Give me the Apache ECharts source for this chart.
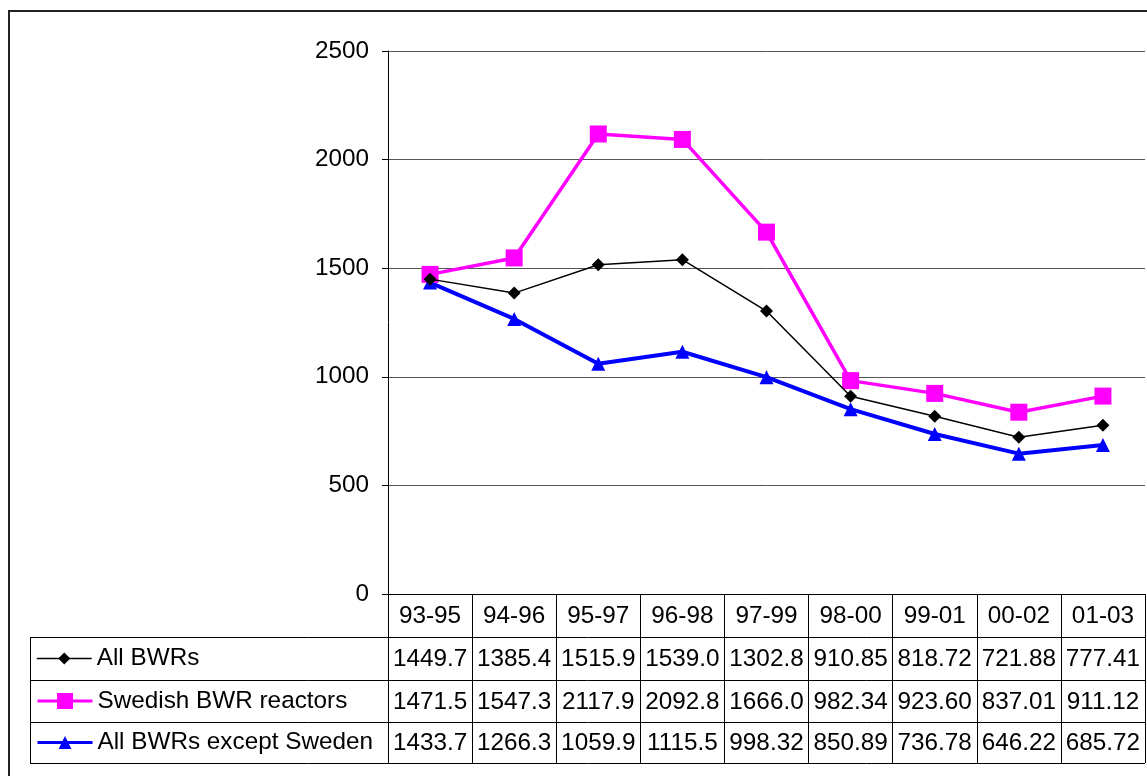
<!DOCTYPE html>
<html>
<head>
<meta charset="utf-8">
<script src="https://cdn.jsdelivr.net/npm/echarts@6/dist/echarts.min.js"></script>
<style>
  html, body { margin: 0; padding: 0; background: #fff; }
  #chart { width: 1147px; height: 776px; }
</style>
</head>
<body>
<div id="chart"></div>
<script>
// periods (3-year rolling)
const categories = ["93-95", "94-96", "95-97", "96-98", "97-99", "98-00", "99-01", "00-02", "01-03"];
const allBwrs = [1449.7, 1385.4, 1515.9, 1539.0, 1302.8, 910.85, 818.72, 721.88, 777.41];
const swedishBwrs = [1471.5, 1547.3, 2117.9, 2092.8, 1666.0, 982.34, 923.60, 837.01, 911.12];
const exceptSweden = [1433.7, 1266.3, 1059.9, 1115.5, 998.32, 850.89, 736.78, 646.22, 685.72];
const yTicks = [0, 500, 1000, 1500, 2000, 2500];

const FONT = "'Liberation Sans', Arial, sans-serif";
const FS = 24.3;

const seriesDefs = [
  { name: "All BWRs", data: allBwrs, color: "#000000", symbol: "diamond", size: 13, width: 1.5, legendH: 15, legendW: 1.5 },
  { name: "Swedish BWR reactors", data: swedishBwrs, color: "#ff00ff", symbol: "rect", size: 17, width: 3.5, legendH: 20, legendW: 3 },
  { name: "All BWRs except Sweden", data: exceptSweden, color: "#0000ff", symbol: "triangle", size: 14, width: 4, legendH: 16, legendW: 3 },
];

// table rows (y range of each row, in px)
const rowTops = [637, 680, 722];
const rowBottom = 763;

var chartDom = document.getElementById("chart");
var myChart = echarts.init(chartDom, null, { renderer: "canvas" });

const option = {
  animation: false,
  textStyle: { fontFamily: FONT },
  grid: { left: 388, right: 2, top: 51, bottom: 182, containLabel: false },
  legend: seriesDefs.map((s, i) => ({
    data: [s.name],
    orient: "vertical",
    left: 36,
    top: (rowTops[i] + (i < 2 ? rowTops[i + 1] : rowBottom)) / 2 - 12,
    padding: 0,
    itemWidth: 55,
    itemHeight: s.legendH,
    selectedMode: false,
    lineStyle: { width: s.legendW },
    textStyle: { fontFamily: FONT, fontSize: FS, color: "#000" },
  })),
  xAxis: {
    type: "category",
    data: categories,
    boundaryGap: true,
    axisLine: { show: true, lineStyle: { color: "#000", width: 1 } },
    axisTick: { show: true, length: rowBottom - 594, lineStyle: { color: "#000", width: 1 } },
    axisLabel: { color: "#000", fontFamily: FONT, fontSize: FS, margin: 10 },
    splitLine: { show: false },
  },
  yAxis: {
    type: "value",
    min: yTicks[0],
    max: yTicks[yTicks.length - 1],
    interval: 500,
    axisLine: { show: true, lineStyle: { color: "#000", width: 1 } },
    axisTick: { show: true, length: 6, lineStyle: { color: "#000" } },
    axisLabel: {
      color: "#000",
      fontFamily: FONT,
      fontSize: FS,
      margin: 19,
      formatter: (v) => String(v),
    },
    splitLine: { show: true, lineStyle: { color: "#555", width: 1 } },
  },
  series: seriesDefs.map((s) => ({
    name: s.name,
    type: "line",
    data: s.data,
    symbol: s.symbol,
    symbolSize: s.size,
    showAllSymbol: true,
    lineStyle: { color: s.color, width: s.width },
    itemStyle: { color: s.color },
    z: s.symbol === "diamond" ? 3 : 2,
  })),
};

myChart.setOption(option);

// data table under the plot, aligned with category bands
function buildTable() {
  const g = [];
  const xl = 30;
  const xr = 1145;
  // outer frame of the picture
  g.push({
    type: "rect",
    shape: { x: 9, y: 11, width: 1200, height: 800 },
    style: { fill: "none", stroke: "#222", lineWidth: 2 },
    silent: true,
  });
  [rowTops[0], rowTops[1], rowTops[2], rowBottom].forEach((y) => {
    g.push({
      type: "line",
      shape: { x1: xl, y1: y + 0.5, x2: xr, y2: y + 0.5 },
      style: { stroke: "#000", lineWidth: 1 },
      silent: true,
    });
  });
  g.push({
    type: "line",
    shape: { x1: xl + 0.5, y1: rowTops[0], x2: xl + 0.5, y2: rowBottom + 1 },
    style: { stroke: "#000", lineWidth: 1 },
    silent: true,
  });
  seriesDefs.forEach((s, r) => {
    const yc = (rowTops[r] + (r < 2 ? rowTops[r + 1] : rowBottom)) / 2 + 1;
    s.data.forEach((v, c) => {
      const xc = myChart.convertToPixel({ xAxisIndex: 0 }, c);
      g.push({
        type: "text",
        x: xc,
        y: yc,
        style: {
          text: v.toPrecision(5),
          font: FS + "px " + FONT,
          fill: "#000",
          align: "center",
          verticalAlign: "middle",
        },
        silent: true,
      });
    });
  });
  return g;
}

myChart.setOption({ graphic: buildTable() });
</script>
</body>
</html>
